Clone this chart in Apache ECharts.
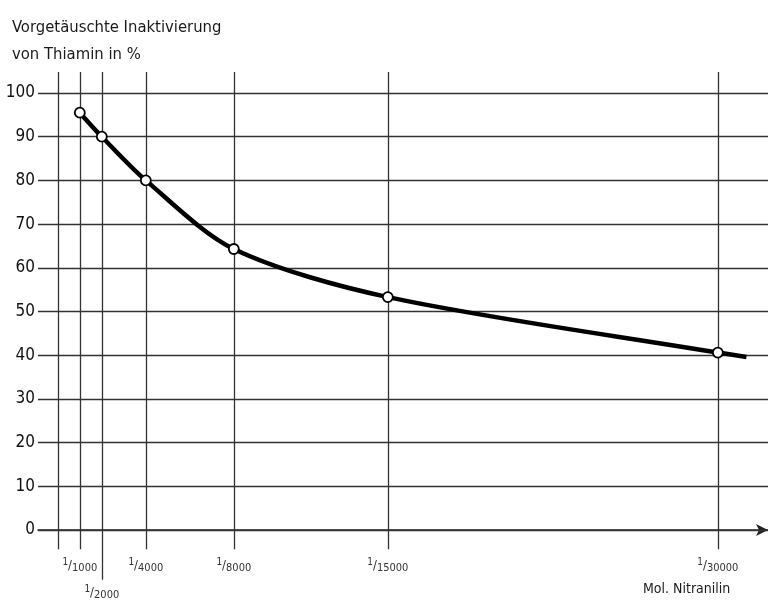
<!DOCTYPE html>
<html>
<head>
<meta charset="utf-8">
<script src="https://cdn.jsdelivr.net/npm/echarts@6/dist/echarts.min.js"></script>
<style>html,body{margin:0;padding:0;background:#fff}#c{width:768px;height:600px}</style>
</head>
<body>
<div id="c"></div>
<script>
// Data
const dilutions = [1000, 2000, 4000, 8000, 15000, 30000];
const inactivation = [95.5, 90, 80, 64.3, 53.3, 40.6];
const curveEnd = [31300, 39.6];
const gridXValues = [0, 1000, 2000, 4000, 8000, 15000, 30000];
const xDenominators = ['1000', '2000', '4000', '8000', '15000', '30000'];
const yTicks = [0, 10, 20, 30, 40, 50, 60, 70, 80, 90, 100];
const lowLabelValues = [2000];   // label printed on a lower row

const FONT = '"Liberation Sans Narrow", "DejaVu Sans Condensed", "Roboto Condensed", sans-serif';
const chart = echarts.init(document.getElementById('c'));

const lineData = dilutions.map((d, i) => [d, inactivation[i]]);
lineData.push({ value: curveEnd, symbol: 'none' });

const fracRich = {
  n: { fontFamily: FONT, fontSize: 10, color: '#333', verticalAlign: 'top', lineHeight: 16 },
  s: { fontFamily: FONT, fontSize: 13, color: '#333', lineHeight: 16 },
  d: { fontFamily: FONT, fontSize: 11, color: '#333', verticalAlign: 'bottom', lineHeight: 16 }
};

const verticalLines = gridXValues.map(x => {
  const i = dilutions.indexOf(x);
  const low = lowLabelValues.indexOf(x) >= 0;
  return [
    {
      coord: [x, 104.8],
      label: i < 0 ? { show: false } : {
        show: true, position: 'end', distance: low ? 5 : 8,
        formatter: '{n|1}{s|/}{d|' + xDenominators[i] + '}',
        rich: fracRich
      }
    },
    { coord: [x, low ? -11.4 : -4.4] }
  ];
});
const horizontalLines = yTicks.map(v => ({ yAxis: v, label: { show: false } }));

chart.setOption({
  animation: false,
  backgroundColor: '#ffffff',
  title: {
    text: 'Vorgetäuschte Inaktivierung\nvon Thiamin in %',
    left: 7, top: 9,
    textStyle: { fontFamily: FONT, fontSize: 16.5, fontWeight: 'normal', color: '#1a1a1a', lineHeight: 27 }
  },
  graphic: [{
    type: 'text', left: 643, top: 582,
    style: { text: 'Mol. Nitranilin', font: '14px ' + FONT, fill: '#1a1a1a' }
  }],
  grid: { left: 38, width: 730, top: 49.3, height: 546.25, containLabel: false, outerBoundsMode: 'none' },
  xAxis: {
    type: 'value', min: -900, max: 32280,
    axisLine: { show: true, onZero: true, lineStyle: { color: '#222', width: 1.5 },
      symbol: ['none', 'arrow'], symbolSize: [9, 12] },
    axisTick: { show: false },
    splitLine: { show: false },
    axisLabel: { show: false }
  },
  yAxis: {
    type: 'value', min: -15, max: 110,
    axisLine: { show: false },
    axisTick: { show: false },
    splitLine: { show: false },
    axisLabel: {
      customValues: yTicks,
      margin: 3,
      fontFamily: FONT, fontSize: 17, color: '#111'
    }
  },
  series: [{
    type: 'line',
    data: lineData,
    smooth: 0.3,
    symbol: 'circle',
    symbolSize: 10,
    z: 5,
    lineStyle: { color: '#000', width: 4.5 },
    itemStyle: { color: '#fff', borderColor: '#000', borderWidth: 1.8 },
    markLine: {
      silent: true,
      symbol: 'none',
      lineStyle: { color: '#333', width: 1.3, type: 'solid' },
      data: verticalLines.concat(horizontalLines),
      z: 1
    }
  }]
});
</script>
</body>
</html>
